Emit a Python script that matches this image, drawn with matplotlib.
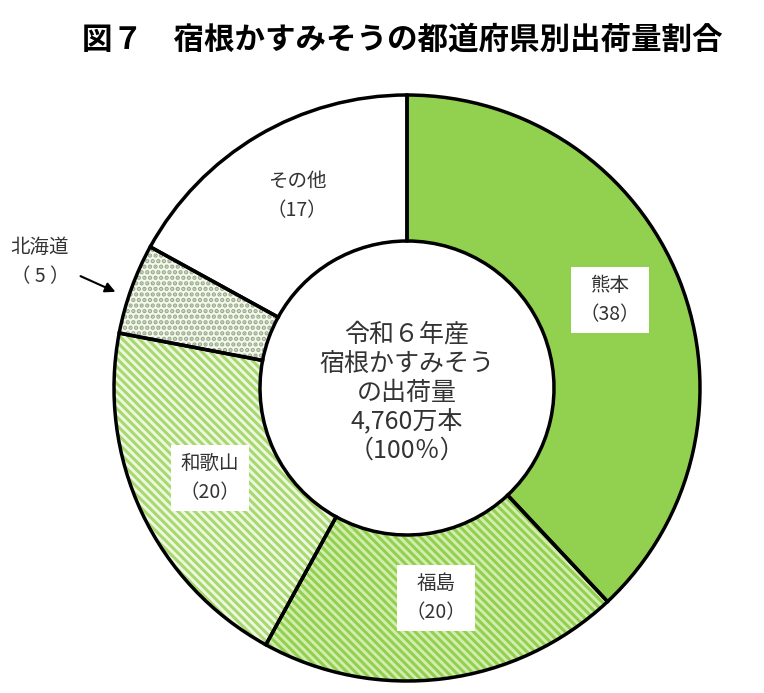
import matplotlib
matplotlib.use("Agg")
import matplotlib.pyplot as plt

plt.rcParams["font.family"] = "Noto Sans CJK JP"

labels = ["熊本", "福島", "和歌山", "北海道", "その他"]
values = [38, 20, 20, 5, 17]
faces = ["#92D050", "#D4EDB0", "#EEF8E0", "#F4FAEA", "white"]
hatch_colors = ["#92D050", "#92D050", "#A8D870", "#9AA890", "white"]
hatches = [None, "\\\\\\\\", "\\\\\\\\", "...", None]

W, H = 764, 693
fig = plt.figure(figsize=(W / 100, H / 100), dpi=100)
ax = fig.add_axes([0, 0, 1, 1])

cx, cy = 407, H - 388
R, width = 293, 146
plt.rcParams["hatch.linewidth"] = 2.2

wedges, _ = ax.pie(values, startangle=90, counterclock=False, center=(cx, cy),
                   radius=R, wedgeprops=dict(width=width, linewidth=0), frame=True)
for w, f, hc, h in zip(wedges, faces, hatch_colors, hatches):
    w.set_facecolor(f)
    w.set_edgecolor(hc)
    if h:
        w.set_hatch(h)
ax.pie(values, startangle=90, counterclock=False, center=(cx, cy), radius=R,
       wedgeprops=dict(width=width, linewidth=2.5, edgecolor="black", fill=False), frame=True)
ax.set_xlim(0, W)
ax.set_ylim(0, H)
ax.set_aspect("equal")
ax.axis("off")

fig.text(0.527, 1 - 40 / H, "図７　宿根かすみそうの都道府県別出荷量割合", ha="center", va="center",
         fontsize=22, fontweight="bold")

tc = "#333333"
fs = 14
box = dict(facecolor="white", edgecolor="none", pad=6)
ax.text(610, H - 300, f"{labels[0]}\n（{values[0]}）", ha="center", va="center", fontsize=fs, color=tc, bbox=box, linespacing=1.5)
ax.text(436, H - 598, f"{labels[1]}\n（{values[1]}）", ha="center", va="center", fontsize=fs, color=tc, bbox=box, linespacing=1.5)
ax.text(210, H - 478, f"{labels[2]}\n（{values[2]}）", ha="center", va="center", fontsize=fs, color=tc, bbox=box, linespacing=1.5)
ax.text(297, H - 196, f"{labels[4]}\n（{values[4]}）", ha="center", va="center", fontsize=fs, color=tc, linespacing=1.5)
ax.text(40, H - 262, f"{labels[3]}\n（ {values[3]} ）", ha="center", va="center", fontsize=fs, color=tc, linespacing=1.5)
ax.annotate("", xy=(118, H - 293), xytext=(78, H - 275),
            arrowprops=dict(arrowstyle="-|>", color="black", lw=1.5, mutation_scale=15))
ax.text(cx, cy - 5, "令和６年産\n宿根かすみそう\nの出荷量\n4,760万本\n（100％）", ha="center", va="center",
        fontsize=18, color=tc, linespacing=1.15)

fig.savefig("out.png", dpi=100)
